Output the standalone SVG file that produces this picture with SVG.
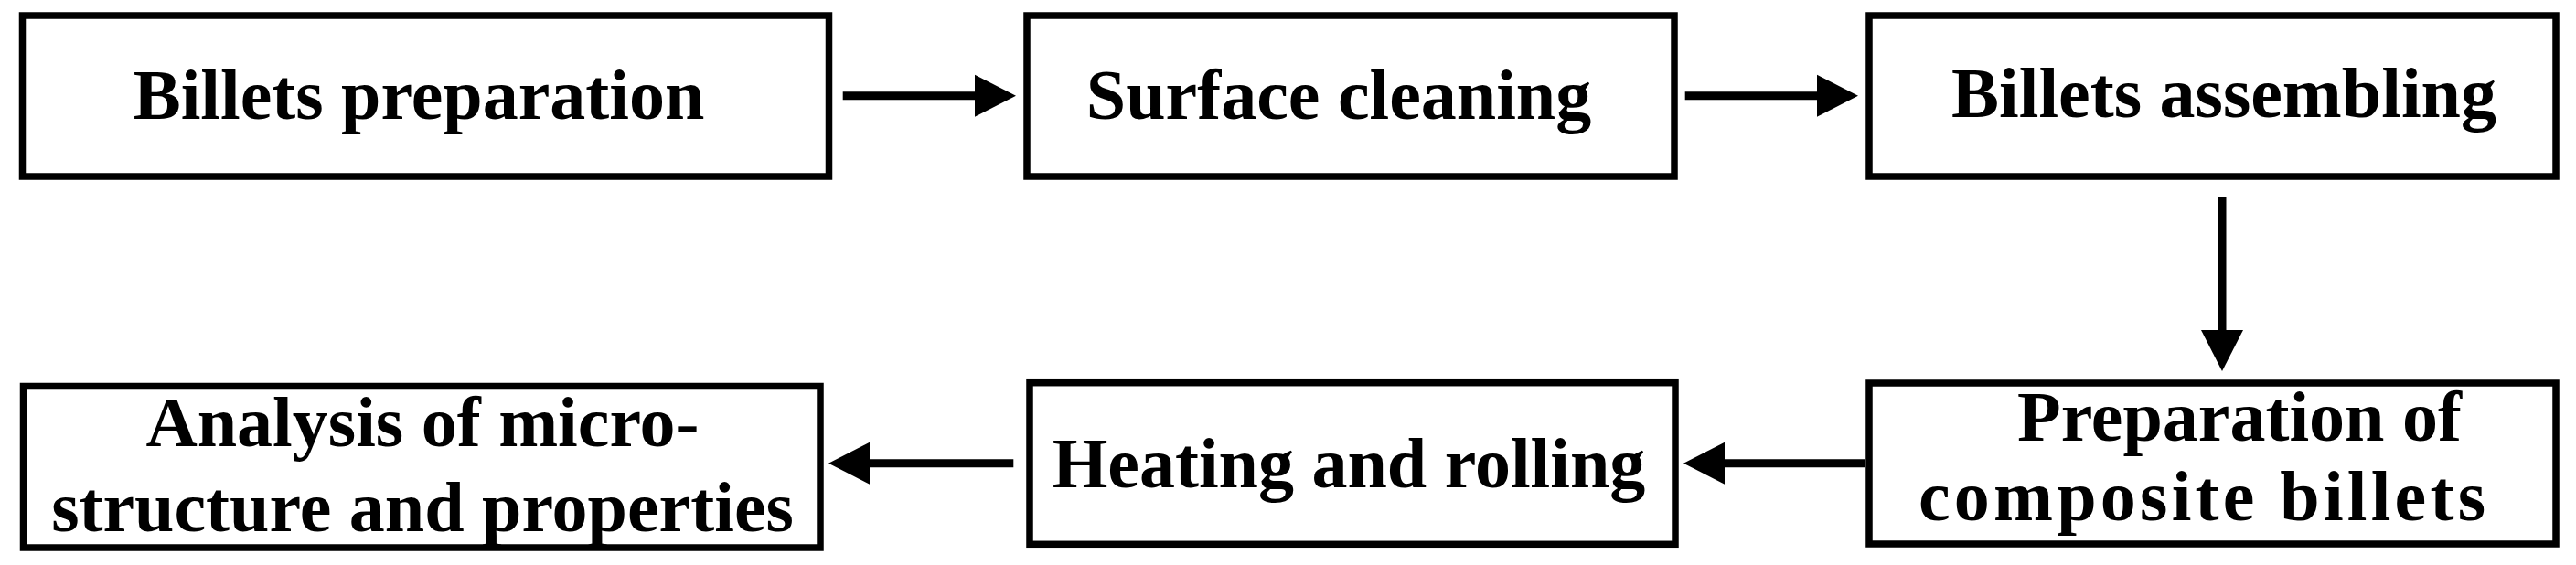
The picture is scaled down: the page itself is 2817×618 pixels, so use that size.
<svg xmlns="http://www.w3.org/2000/svg" width="2817" height="618" viewBox="0 0 2817 618">
<style>
.box{fill:#fff;stroke:#000;stroke-width:7.5}
.lbl{font-family:"Liberation Serif","Times New Roman",serif;font-weight:bold;font-size:78px;fill:#000;text-anchor:middle}
.arr{fill:none;stroke:#000;stroke-width:9}
</style>
<defs>
<marker id="ah" markerUnits="userSpaceOnUse" markerWidth="46" markerHeight="48" refX="0" refY="23" orient="auto" viewBox="0 0 46 46">
<path d="M0,0 L45,23 L0,46 Z" fill="#000"/>
</marker>
</defs>
<rect width="2817" height="618" fill="#fff"/>
<g id="connectors">
<path class="arr" d="M921.7,104.7 H1066" marker-end="url(#ah)"/>
<path class="arr" d="M1842.7,104.7 H1987" marker-end="url(#ah)"/>
<path class="arr" d="M2430,216 V361" marker-end="url(#ah)"/>
<path class="arr" d="M2039,506.7 H1886" marker-end="url(#ah)"/>
<path class="arr" d="M1108.3,506.7 H951" marker-end="url(#ah)"/>
</g>
<g id="n1"><rect class="box" x="24.5" y="17" width="882" height="176"/><text class="lbl" x="458" y="130">Billets preparation</text></g>
<g id="n2"><rect class="box" x="1123" y="17" width="708" height="176"/><text class="lbl" x="1464" y="130">Surface cleaning</text></g>
<g id="n3"><rect class="box" x="2044" y="17" width="751" height="176"/><text class="lbl" x="2432" y="128">Billets assembling</text></g>
<g id="n4"><rect class="box" x="25.5" y="422.5" width="871.5" height="176.5"/><text class="lbl" x="462" y="488">Analysis of micro-</text><text class="lbl" x="462" y="581">structure and properties</text></g>
<g id="n5"><rect class="box" x="1126" y="418.7" width="706" height="176.6"/><text class="lbl" x="1475" y="533">Heating and rolling</text></g>
<g id="n6"><rect class="box" x="2044" y="419" width="751" height="176"/><text class="lbl" x="2449" y="482">Preparation of</text><text class="lbl" x="2408" y="569" textLength="620" lengthAdjust="spacing">composite billets</text></g>
</svg>
